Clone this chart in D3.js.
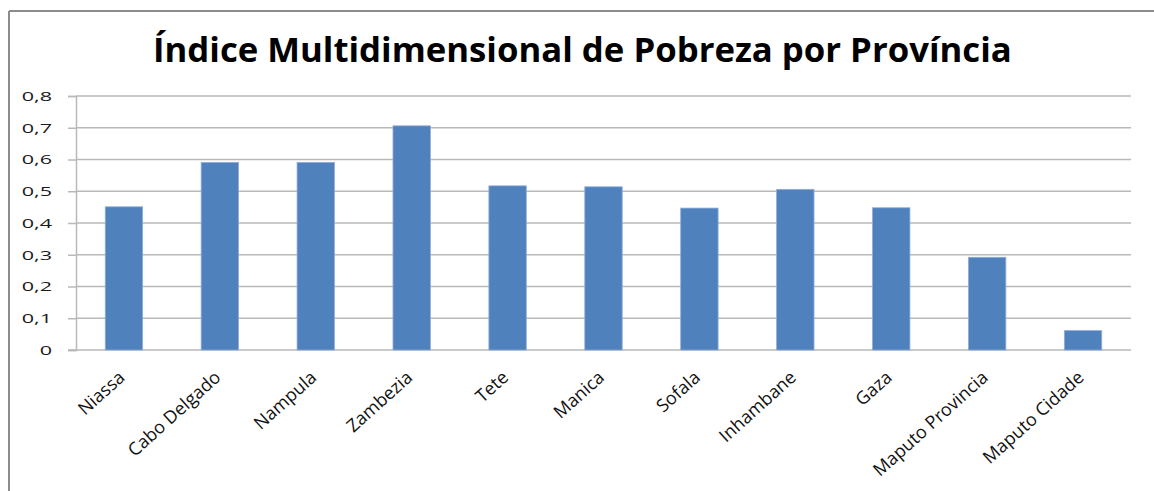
<!DOCTYPE html>
<html>
<head>
<meta charset="utf-8">
<script src="https://cdn.jsdelivr.net/npm/d3@7"></script>
<style>
  html, body { margin: 0; padding: 0; background: #fff; }
  svg { display: block; }
</style>
</head>
<body>
<svg id="chart" width="1154" height="491"></svg>
<script>
const title = "Índice Multidimensional de Pobreza por Província";
const categories = ["Niassa", "Cabo Delgado", "Nampula", "Zambezia", "Tete", "Manica", "Sofala", "Inhambane", "Gaza", "Maputo Provincia", "Maputo Cidade"];
const values = [0.451, 0.591, 0.591, 0.706, 0.517, 0.514, 0.447, 0.506, 0.448, 0.292, 0.061];
const yTicks = [0, 0.1, 0.2, 0.3, 0.4, 0.5, 0.6, 0.7, 0.8];

const svg = d3.select("#chart");
const W = 1154, H = 491;
const plot = { left: 76, right: 1131, top: 96, bottom: 350 };
const font = "'Open Sans', sans-serif";
const grid = "#b9b9b9";

// frame
svg.append("line").attr("x1", 9).attr("x2", 9).attr("y1", 11).attr("y2", H).attr("stroke", "#8c8c8c").attr("stroke-width", 2);
svg.append("line").attr("x1", 9).attr("x2", W).attr("y1", 11).attr("y2", 11).attr("stroke", "#8c8c8c").attr("stroke-width", 2);

const x = d3.scaleBand().domain(categories).range([plot.left, plot.right]).paddingInner(0.61).paddingOuter(0.305);
const y = d3.scaleLinear().domain([0, 0.8]).range([plot.bottom, plot.top]);

// gridlines
svg.append("g").selectAll("line").data(yTicks.filter(d => d > 0)).join("line")
  .attr("x1", plot.left).attr("x2", plot.right)
  .attr("y1", d => y(d)).attr("y2", d => y(d))
  .attr("stroke", grid).attr("stroke-width", 1.5);

// y axis
const yAxis = svg.append("g").attr("transform", `translate(${plot.left},0)`)
  .call(d3.axisLeft(y).tickValues(yTicks).tickSize(8).tickPadding(0)
    .tickFormat(d => d === 0 ? "0" : d3.format(".1f")(d).replace(".", ",")));
yAxis.select(".domain").attr("stroke", grid).attr("stroke-width", 1.5);
yAxis.selectAll(".tick line").attr("stroke", grid).attr("stroke-width", 1.5);
yAxis.selectAll(".tick text").remove();

// y labels (horizontally stretched like the reference)
const yLab = svg.append("g");
yTicks.forEach(t => {
  const lbl = t === 0 ? "0" : d3.format(".1f")(t).replace(".", ",");
  yLab.append("text")
    .attr("transform", `translate(52,${y(t)}) scale(1.6,1)`)
    .attr("text-anchor", "end").attr("dy", "0.36em")
    .attr("font-family", font).attr("font-size", 13.5).attr("fill", "#1a1a1a")
    .text(lbl);
});

// x axis line
svg.append("line").attr("x1", plot.left - 8).attr("x2", plot.right)
  .attr("y1", plot.bottom).attr("y2", plot.bottom)
  .attr("stroke", grid).attr("stroke-width", 1.5);

// bars
svg.append("g").selectAll("rect").data(categories).join("rect")
  .attr("x", d => x(d))
  .attr("y", (d, i) => y(values[i]))
  .attr("width", x.bandwidth())
  .attr("height", (d, i) => plot.bottom - y(values[i]))
  .attr("fill", "#4f81bd")
  .attr("stroke", "#8fadd8").attr("stroke-width", 0.8);

// x labels
svg.append("g").selectAll("text").data(categories).join("text")
  .attr("transform", d => `translate(${x(d) + x.bandwidth() / 2 + 2},${plot.bottom + 29}) rotate(-42)`)
  .attr("text-anchor", "end")
  .attr("font-family", font).attr("font-size", 18).attr("fill", "#111")
  .text(d => d);

// title
const tt = svg.append("text")
  .attr("font-family", font).attr("font-weight", "bold").attr("font-size", 34)
  .attr("fill", "#000").text(title);
const tw = tt.node().getComputedTextLength();
const targetW = 1012 - 153;
tt.attr("transform", `translate(153,62) scale(${targetW / tw},1)`);
</script>
</body>
</html>
